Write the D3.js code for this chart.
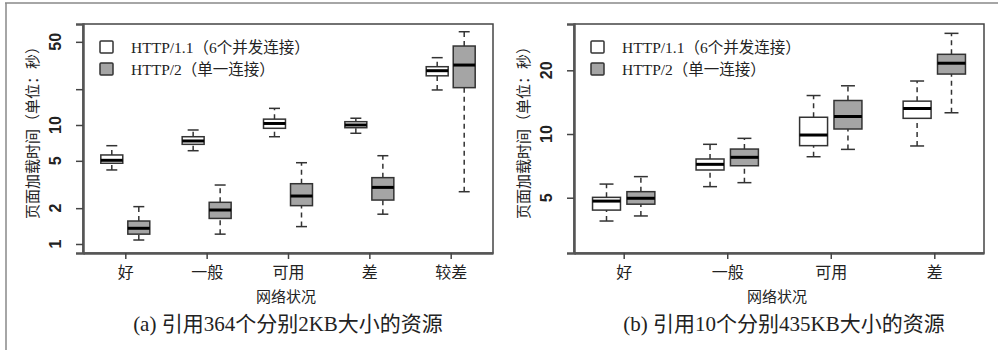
<!DOCTYPE html>
<html>
<head>
<meta charset="utf-8">
<script src="https://cdn.jsdelivr.net/npm/d3@7"></script>
<style>
  body { margin: 0; background: #fff; }
  svg text { fill: #222; }
</style>
</head>
<body>
<svg id="chart" width="998" height="350"></svg>
<script>
// series: [lower whisker, q1, median, q3, upper whisker] (seconds)
const categoriesA = ["好", "一般", "可用", "差", "较差"];
const http11A = [
  [4.19, 4.77, 5.05, 5.60, 6.70],
  [6.08, 6.88, 7.34, 7.97, 9.08],
  [7.97, 9.38, 10.3, 11.2, 13.8],
  [8.52, 9.49, 10.0, 10.66, 11.4],
  [19.7, 25.9, 28.6, 30.9, 36.8]
];
const http2A = [
  [1.08, 1.21, 1.355, 1.56, 2.06],
  [1.21, 1.64, 1.93, 2.24, 3.13],
  [1.40, 2.10, 2.53, 3.21, 4.82],
  [1.78, 2.34, 2.99, 3.61, 5.52],
  [2.75, 20.6, 31.9, 46.1, 60.8]
];
const ticksA = [1, 2, 5, 10, 20, 50];
const tickLabelsA = ["1", "2", "5", "10", "", "50"];

const categoriesB = ["好", "一般", "可用", "差"];
const http11B = [
  [3.88, 4.37, 4.82, 5.02, 5.80],
  [5.64, 6.76, 7.19, 7.62, 8.94],
  [7.81, 8.81, 9.89, 12.0, 15.2],
  [8.78, 11.86, 13.2, 14.3, 17.8]
];
const http2B = [
  [4.10, 4.66, 4.97, 5.34, 6.29],
  [5.89, 7.08, 7.76, 8.49, 9.54],
  [8.46, 10.56, 12.1, 14.4, 16.9],
  [12.6, 19.2, 21.6, 23.8, 29.9]
];
const ticksB = [5, 10, 20];
const tickLabelsB = ["5", "10", "20"];

const legendLabels = ["HTTP/1.1（6个并发连接）", "HTTP/2（单一连接）"];
const seriesFill = ["#ffffff", "#a5a5a5"];
const yTitle = "页面加载时间（单位：秒）";
const xTitle = "网络状况";

const svg = d3.select("#chart");
const serif = "'Liberation Serif', 'Noto Sans CJK SC', serif";
const stroke = "#333";

// outer figure frame
svg.append("line").attr("x1", 5).attr("x2", 998).attr("y1", 3).attr("y2", 3)
  .attr("stroke", "#888").attr("stroke-width", 1.5);
svg.append("line").attr("x1", 6).attr("x2", 6).attr("y1", 3).attr("y2", 350)
  .attr("stroke", "#888").attr("stroke-width", 1.5);

/**
 * Draw one boxplot panel
 */
function drawPanel(cfg) {
  const g = svg.append("g");
  const top = 24, bottom = 253;

  const x = d3.scalePoint().domain(cfg.categories)
    .range([cfg.left, cfg.right]).padding(cfg.padding);
  const y = d3.scaleLog().domain(cfg.yDomain).range([bottom, top]);
  const step = x.step();
  const boxW = step * 0.27;
  const offset = step * 0.166;

  // boxes
  [cfg.s1, cfg.s2].forEach((series, si) => {
    const sx = si === 0 ? -offset : offset;
    const boxes = g.selectAll(".box" + si).data(series).enter()
      .append("g").attr("class", "box" + si)
      .attr("transform", (d, i) => "translate(" + (x(cfg.categories[i]) + sx) + ",0)");

    // whiskers
    boxes.append("line").attr("y1", d => y(d[0])).attr("y2", d => y(d[1]))
      .attr("stroke", stroke).attr("stroke-width", 1.5).attr("stroke-dasharray", "5,4");
    boxes.append("line").attr("y1", d => y(d[3])).attr("y2", d => y(d[4]))
      .attr("stroke", stroke).attr("stroke-width", 1.5).attr("stroke-dasharray", "5,4");
    // caps
    boxes.append("line").attr("x1", -boxW / 4).attr("x2", boxW / 4)
      .attr("y1", d => y(d[0])).attr("y2", d => y(d[0]))
      .attr("stroke", stroke).attr("stroke-width", 1.5);
    boxes.append("line").attr("x1", -boxW / 4).attr("x2", boxW / 4)
      .attr("y1", d => y(d[4])).attr("y2", d => y(d[4]))
      .attr("stroke", stroke).attr("stroke-width", 1.5);
    // box
    boxes.append("rect").attr("x", -boxW / 2).attr("width", boxW)
      .attr("y", d => y(d[3])).attr("height", d => y(d[1]) - y(d[3]))
      .attr("fill", seriesFill[si]).attr("stroke", stroke).attr("stroke-width", 1.5);
    // median
    boxes.append("line").attr("x1", -boxW / 2).attr("x2", boxW / 2)
      .attr("y1", d => y(d[2])).attr("y2", d => y(d[2]))
      .attr("stroke", "#000").attr("stroke-width", 3);
  });

  // frame
  g.append("rect").attr("x", cfg.left).attr("y", top)
    .attr("width", cfg.right - cfg.left).attr("height", bottom - top)
    .attr("fill", "none").attr("stroke", "#444").attr("stroke-width", 1.5);

  // y axis
  const yAxis = g.append("g").attr("transform", "translate(" + cfg.left + ",0)")
    .call(d3.axisLeft(y).tickValues(cfg.ticks).tickSize(7).tickFormat(() => ""));
  yAxis.select(".domain").attr("stroke", "#555").attr("stroke-width", 2.5);
  yAxis.selectAll(".tick line").attr("stroke", "#444").attr("stroke-width", 1.5);

  g.selectAll(".ylab").data(cfg.ticks).enter().append("text")
    .attr("transform", d => "translate(" + (cfg.left - 28) + "," + y(d) + ") rotate(-90)")
    .attr("text-anchor", "middle").attr("dominant-baseline", "central")
    .style("font-family", "'Liberation Sans', Arial, sans-serif")
    .style("font-weight", "bold").style("font-size", "16px")
    .text((d, i) => cfg.tickLabels[i]);

  // x axis
  const xAxis = g.append("g").attr("transform", "translate(0," + bottom + ")")
    .call(d3.axisBottom(x).tickSize(6).tickSizeOuter(0).tickPadding(8));
  xAxis.select(".domain").attr("stroke", "#555").attr("stroke-width", 2.5);
  xAxis.selectAll(".tick line").attr("stroke", "#444").attr("stroke-width", 1.5);
  xAxis.selectAll(".tick text").style("font-family", serif).style("font-size", "16px")
    .attr("fill", "#222");

  // titles
  g.append("text")
    .attr("transform", "translate(" + (cfg.left - 50) + "," + 129 + ") rotate(-90)")
    .attr("text-anchor", "middle").attr("dominant-baseline", "central")
    .style("font-family", serif).style("font-size", "15px").text(yTitle);
  g.append("text").attr("x", (cfg.left + cfg.right) / 2 - 2).attr("y", 302)
    .attr("text-anchor", "middle")
    .style("font-family", serif).style("font-size", "15px").text(xTitle);
  g.append("text").attr("x", cfg.captionX).attr("y", 331)
    .attr("text-anchor", "middle")
    .style("font-family", serif).style("font-size", "21px").text(cfg.caption);

  // legend
  const leg = g.selectAll(".legend").data(legendLabels).enter().append("g")
    .attr("transform", (d, i) => "translate(" + (cfg.left + 17) + "," + (47 + i * 22) + ")");
  leg.append("rect").attr("x", 0).attr("y", -6).attr("width", 13).attr("height", 12)
    .attr("rx", 1).attr("fill", (d, i) => seriesFill[i])
    .attr("stroke", stroke).attr("stroke-width", 1.5);
  leg.append("text").attr("x", 31).attr("y", 0).attr("dominant-baseline", "central")
    .style("font-family", serif).style("font-size", "15.5px").text(d => d);
}

drawPanel({
  categories: categoriesA, s1: http11A, s2: http2A,
  left: 83, right: 493, padding: 0.52, yDomain: [0.84, 70.6],
  ticks: ticksA, tickLabels: tickLabelsA,
  caption: "(a) 引用364个分别2KB大小的资源", captionX: 288
});

drawPanel({
  categories: categoriesB, s1: http11B, s2: http2B,
  left: 574, right: 984, padding: 0.48, yDomain: [2.74, 33.1],
  ticks: ticksB, tickLabels: tickLabelsB,
  caption: "(b) 引用10个分别435KB大小的资源", captionX: 784
});
</script>
</body>
</html>
